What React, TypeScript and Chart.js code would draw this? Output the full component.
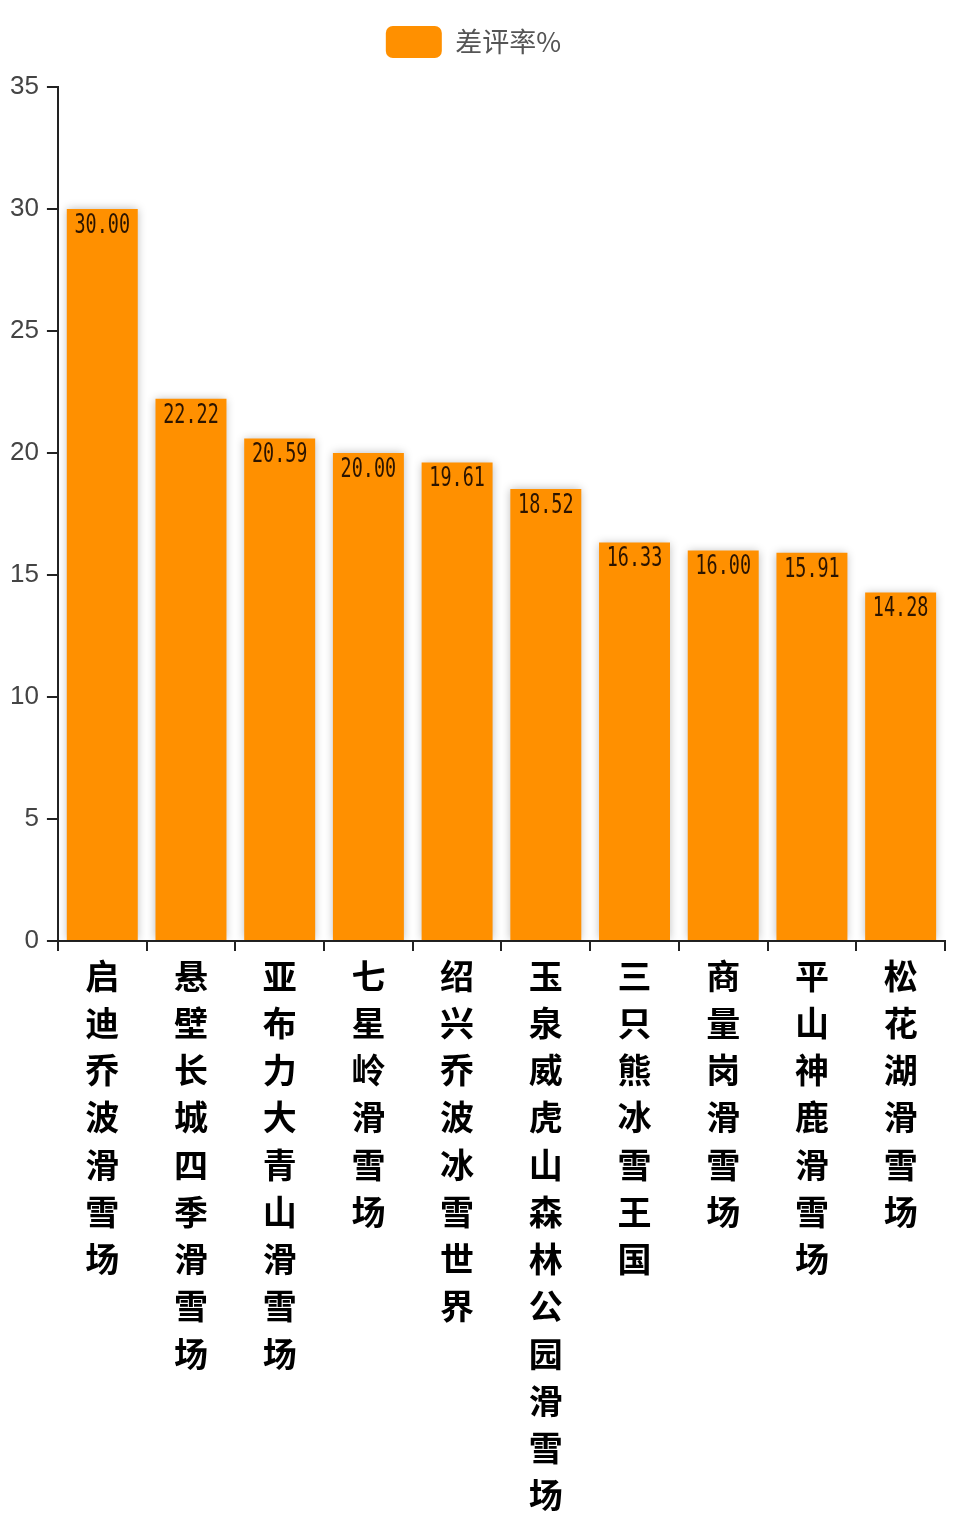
import React, { useEffect, useRef } from "react";
import { Chart, registerables } from "chart.js";

Chart.register(...registerables);

const categories = [
  "启迪乔波滑雪场",
  "悬壁长城四季滑雪场",
  "亚布力大青山滑雪场",
  "七星岭滑雪场",
  "绍兴乔波冰雪世界",
  "玉泉威虎山森林公园滑雪场",
  "三只熊冰雪王国",
  "商量岗滑雪场",
  "平山神鹿滑雪场",
  "松花湖滑雪场",
];
const seriesName = "差评率%";
const values = [30.0, 22.22, 20.59, 20.0, 19.61, 18.52, 16.33, 16.0, 15.91, 14.28];
const yTicks = [0, 5, 10, 15, 20, 25, 30, 35];

const legendGapPlugin = {
  id: "legendGap",
  beforeInit(chart: any) {
    const legend = chart.legend;
    if (!legend) return;
    const orig = legend.fit;
    legend.fit = function () {
      orig.call(this);
      this.height += 19;
    };
  },
};

const shadowPlugin = {
  id: "barShadow",
  beforeDatasetsDraw(chart: any) {
    const ctx = chart.ctx;
    ctx.save();
    ctx.shadowColor = "rgba(0,0,0,0.28)";
    ctx.shadowBlur = 9;
    ctx.shadowOffsetX = 0;
    ctx.shadowOffsetY = 0;
  },
  afterDatasetsDraw(chart: any) {
    chart.ctx.restore();
  },
};

const labelPlugin = {
  id: "barLabels",
  afterDraw(chart: any) {
    const ctx = chart.ctx;
    const meta = chart.getDatasetMeta(0);
    ctx.save();
    ctx.fillStyle = "#2b1400";
    ctx.font = "26px 'DejaVu Sans Mono'";
    ctx.textAlign = "center";
    ctx.textBaseline = "middle";
    meta.data.forEach((bar: any, i: number) => {
      const v = chart.data.datasets[0].data[i] as number;
      ctx.save();
      ctx.translate(bar.x, bar.y + 17);
      ctx.scale(0.71, 1);
      ctx.fillText(v.toFixed(2), 0, 0);
      ctx.restore();
    });
    ctx.restore();
  },
};

export default function App() {
  const ref = useRef<HTMLCanvasElement | null>(null);

  useEffect(() => {
    document.body.style.margin = "0";
    if (!ref.current) return;
    const chart = new Chart(ref.current, {
      type: "bar",
      data: {
        labels: categories.map((s) => Array.from(s)),
        datasets: [
          {
            label: seriesName,
            data: values,
            backgroundColor: "#ff9000",
            borderWidth: 0,
            barPercentage: 0.8,
            categoryPercentage: 1,
          },
        ],
      },
      options: {
        animation: false,
        responsive: true,
        maintainAspectRatio: false,
        layout: { padding: { top: 12, right: 15, left: 2, bottom: 0 } },
        plugins: {
          tooltip: { enabled: false },
          legend: {
            display: true,
            position: "top",
            labels: {
              boxWidth: 56,
              boxHeight: 32,
              useBorderRadius: true,
              borderRadius: 7,
              color: "#555",
              padding: 14,
              font: { size: 27, family: "'Noto Sans CJK SC'" },
            },
          },
        },
        scales: {
          x: {
            grid: {
              display: true,
              drawOnChartArea: false,
              drawTicks: true,
              tickLength: 10,
              color: "#222",
              lineWidth: 2,
              offset: true,
            },
            border: { display: true, color: "#222", width: 2 },
            ticks: {
              autoSkip: false,
              maxRotation: 0,
              minRotation: 0,
              color: "#000",
              padding: 1,
              font: { size: 34, weight: "bold", family: "'Noto Sans CJK SC'", lineHeight: 47.25 / 34 },
            },
          },
          y: {
            min: 0,
            max: 35,
            afterBuildTicks(axis: any) {
              axis.ticks = yTicks.map((v) => ({ value: v }));
            },
            grid: {
              display: true,
              drawOnChartArea: false,
              drawTicks: true,
              tickLength: 11,
              color: "#222",
              lineWidth: 2,
            },
            border: { display: true, color: "#222", width: 2 },
            ticks: {
              color: "#444",
              padding: 8,
              font: { size: 26, family: "'Liberation Sans'" },
            },
          },
        },
      },
      plugins: [legendGapPlugin, shadowPlugin, labelPlugin],
    });
    return () => chart.destroy();
  }, []);

  return (
    <div style={{ width: 960, height: 1520, position: "relative" }}>
      <canvas ref={ref} />
    </div>
  );
}
